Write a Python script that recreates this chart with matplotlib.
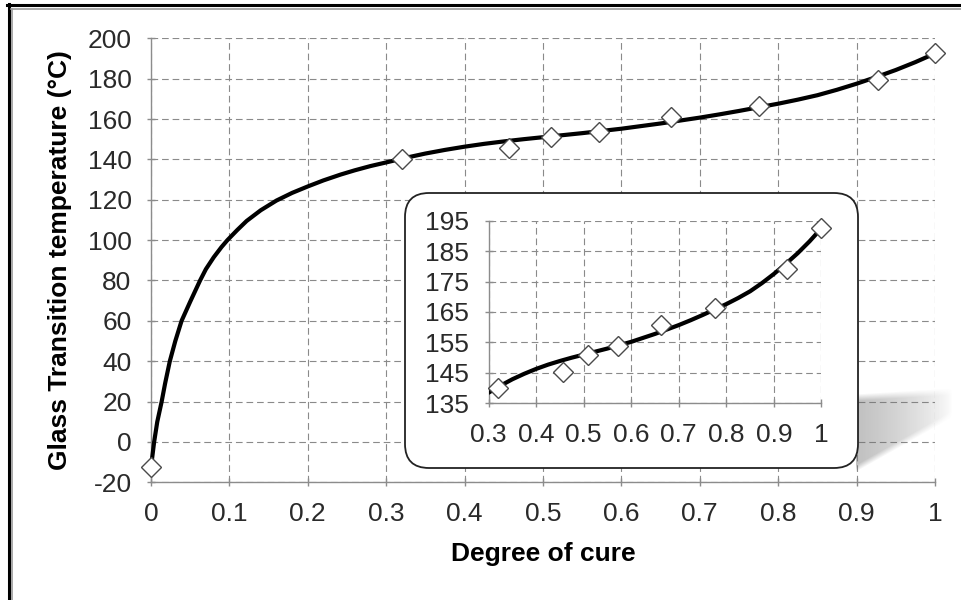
import numpy as np
import matplotlib
matplotlib.use("Agg")
import matplotlib.pyplot as plt
from matplotlib.patches import FancyBboxPatch
from matplotlib.lines import Line2D

plt.rcParams['font.family'] = ['Liberation Sans', 'DejaVu Sans']
plt.rcParams['axes.unicode_minus'] = False

# ---- data ----
cure_points = [0.0, 0.32, 0.457, 0.51, 0.572, 0.663, 0.776, 0.927, 1.0]
tg_points = [-12.5, 140.1, 145.4, 151.0, 153.8, 160.8, 166.4, 179.1, 192.6]

curve_x = [0.0, 0.004, 0.008, 0.0136, 0.018, 0.024, 0.031, 0.039, 0.050, 0.0626,
           0.070, 0.080, 0.090, 0.0975, 0.110, 0.122, 0.140, 0.160, 0.180, 0.200,
           0.220, 0.242, 0.260, 0.280, 0.300, 0.325, 0.35, 0.375, 0.40, 0.425, 0.45,
           0.475, 0.50, 0.55, 0.60, 0.65, 0.70, 0.725, 0.75, 0.775, 0.80, 0.825,
           0.85, 0.875, 0.90, 0.925, 0.95, 0.975, 1.0]
curve_y = [-12.5, 0, 10, 20, 29, 40, 50, 60, 69.5, 80,
           85.6, 91.5, 96.6, 100, 105, 109.5, 114.8, 119.6, 123.4, 126.6,
           129.6, 132.5, 134.6, 136.7, 138.5, 140.8, 142.9, 144.7, 146.3, 147.7, 148.9,
           150.0, 151.0, 153.0, 155.2, 157.8, 160.7, 162.3, 164.0, 165.8, 167.6, 169.6,
           171.8, 174.5, 177.5, 180.8, 184.3, 188.2, 192.5]

main_xticks = [0, 0.1, 0.2, 0.3, 0.4, 0.5, 0.6, 0.7, 0.8, 0.9, 1.0]
main_xlabels = ['0', '0.1', '0.2', '0.3', '0.4', '0.5', '0.6', '0.7', '0.8', '0.9', '1']
main_yticks = [-20, 0, 20, 40, 60, 80, 100, 120, 140, 160, 180, 200]
inset_xticks = [0.3, 0.4, 0.5, 0.6, 0.7, 0.8, 0.9, 1.0]
inset_xlabels = ['0.3', '0.4', '0.5', '0.6', '0.7', '0.8', '0.9', '1']
inset_yticks = [135, 145, 155, 165, 175, 185, 195]

W, H = 961, 600
fig = plt.figure(figsize=(W / 100, H / 100), dpi=100)
fig.patch.set_facecolor('white')

def fx(px):
    return px / W

def fy(py):
    return 1 - py / H

TICK_COLOR = '#2a2a2a'
GRID_KW = dict(color='#8a8a8a', linestyle=(0, (6, 3.5)), linewidth=0.8)
FS = 19

def style_axes(ax):
    for s in ['top', 'right']:
        ax.spines[s].set_visible(False)
    for s in ['left', 'bottom']:
        ax.spines[s].set_color('#8c8c8c')
        ax.spines[s].set_linewidth(1.0)
    ax.grid(True, **GRID_KW)
    ax.set_axisbelow(True)
    ax.tick_params(direction='inout', length=6, width=1.0, color='#8c8c8c',
                   labelsize=FS, labelcolor=TICK_COLOR, pad=11)

# ---- main axes ----
ax = fig.add_axes([fx(151), fy(482.3), fx(784), 444 / H])
ax.set_xlim(0, 1)
ax.set_ylim(-20, 200)
ax.set_xticks(main_xticks)
ax.set_xticklabels(main_xlabels)
ax.set_yticks(main_yticks)
style_axes(ax)
ax.plot(curve_x, curve_y, color='black', linewidth=3.0, zorder=3, clip_on=False,
        solid_joinstyle='round')
ax.plot(cure_points, tg_points, linestyle='none', marker='D', markersize=10,
        markerfacecolor='white', markeredgecolor='#4a4a4a', markeredgewidth=1.0,
        zorder=4, clip_on=False)
ax.set_xlabel('Degree of cure', fontsize=19, fontweight='bold', labelpad=12)
ax.set_ylabel('Glass Transition temperature (°C)', fontsize=19, fontweight='bold',
              labelpad=11)

# ---- shadow of the inset box ----
sx0, sx1, sy0, sy1 = 856, 952, 386, 474
nx, ny = sx1 - sx0, sy1 - sy0
u = (np.arange(nx) + 0.5) / nx
yy = np.arange(ny) + sy0
U, Y = np.meshgrid(u, yy)
top = 397 - 6 * U
bot = 468 - 54 * U
soft = 7.0
inside = np.clip((Y - top) / soft + 0.5, 0, 1) * np.clip((bot - Y) / soft + 0.5, 0, 1)
alpha = 0.45 * inside * np.clip(1 - U, 0, 1) ** 0.7
rgba = np.zeros((ny, nx, 4))
rgba[..., :3] = 0.45
rgba[..., 3] = alpha
sax = fig.add_axes([fx(sx0), fy(sy1), fx(nx), ny / H], zorder=1.5)
sax.imshow(rgba, aspect='auto', interpolation='bilinear')
sax.axis('off')

# ---- inset box ----
box = FancyBboxPatch((405 / 100, (H - 468) / 100), 453 / 100, 275 / 100,
                     boxstyle='round,pad=0,rounding_size=0.24',
                     transform=fig.dpi_scale_trans, facecolor='white',
                     edgecolor='#222222', linewidth=1.3, zorder=2)
fig.patches.append(box)

# ---- inset axes ----
ins = fig.add_axes([fx(488.6), fy(403.3), fx(332.8), 182.6 / H], zorder=3)
ins.patch.set_alpha(0)
ins.set_xlim(0.3, 1.0)
ins.set_ylim(135, 195)
ins.set_xticks(inset_xticks)
ins.set_xticklabels(inset_xlabels)
ins.set_yticks(inset_yticks)
style_axes(ins)
ins.plot(curve_x, curve_y, color='black', linewidth=3.0, zorder=3,
         solid_joinstyle='round')
ins.plot(cure_points[1:], tg_points[1:], linestyle='none', marker='D', markersize=10,
         markerfacecolor='white', markeredgecolor='#4a4a4a', markeredgewidth=1.0,
         zorder=4, clip_on=False)

# ---- outer frame lines ----
fig.add_artist(Line2D([fx(7), 1], [fy(4.5), fy(4.5)], color='black', linewidth=2.2))
fig.add_artist(Line2D([fx(8.5), fx(8.5)], [fy(3.5), 0], color='black', linewidth=2.2))
fig.add_artist(Line2D([fx(11), 1], [fy(8.7), fy(8.7)], color='#9a9a9a', linewidth=1.2))
fig.add_artist(Line2D([fx(11.7), fx(11.7)], [fy(8.7), 0], color='#9a9a9a', linewidth=1.2))

fig.savefig('out.png', dpi=100)
